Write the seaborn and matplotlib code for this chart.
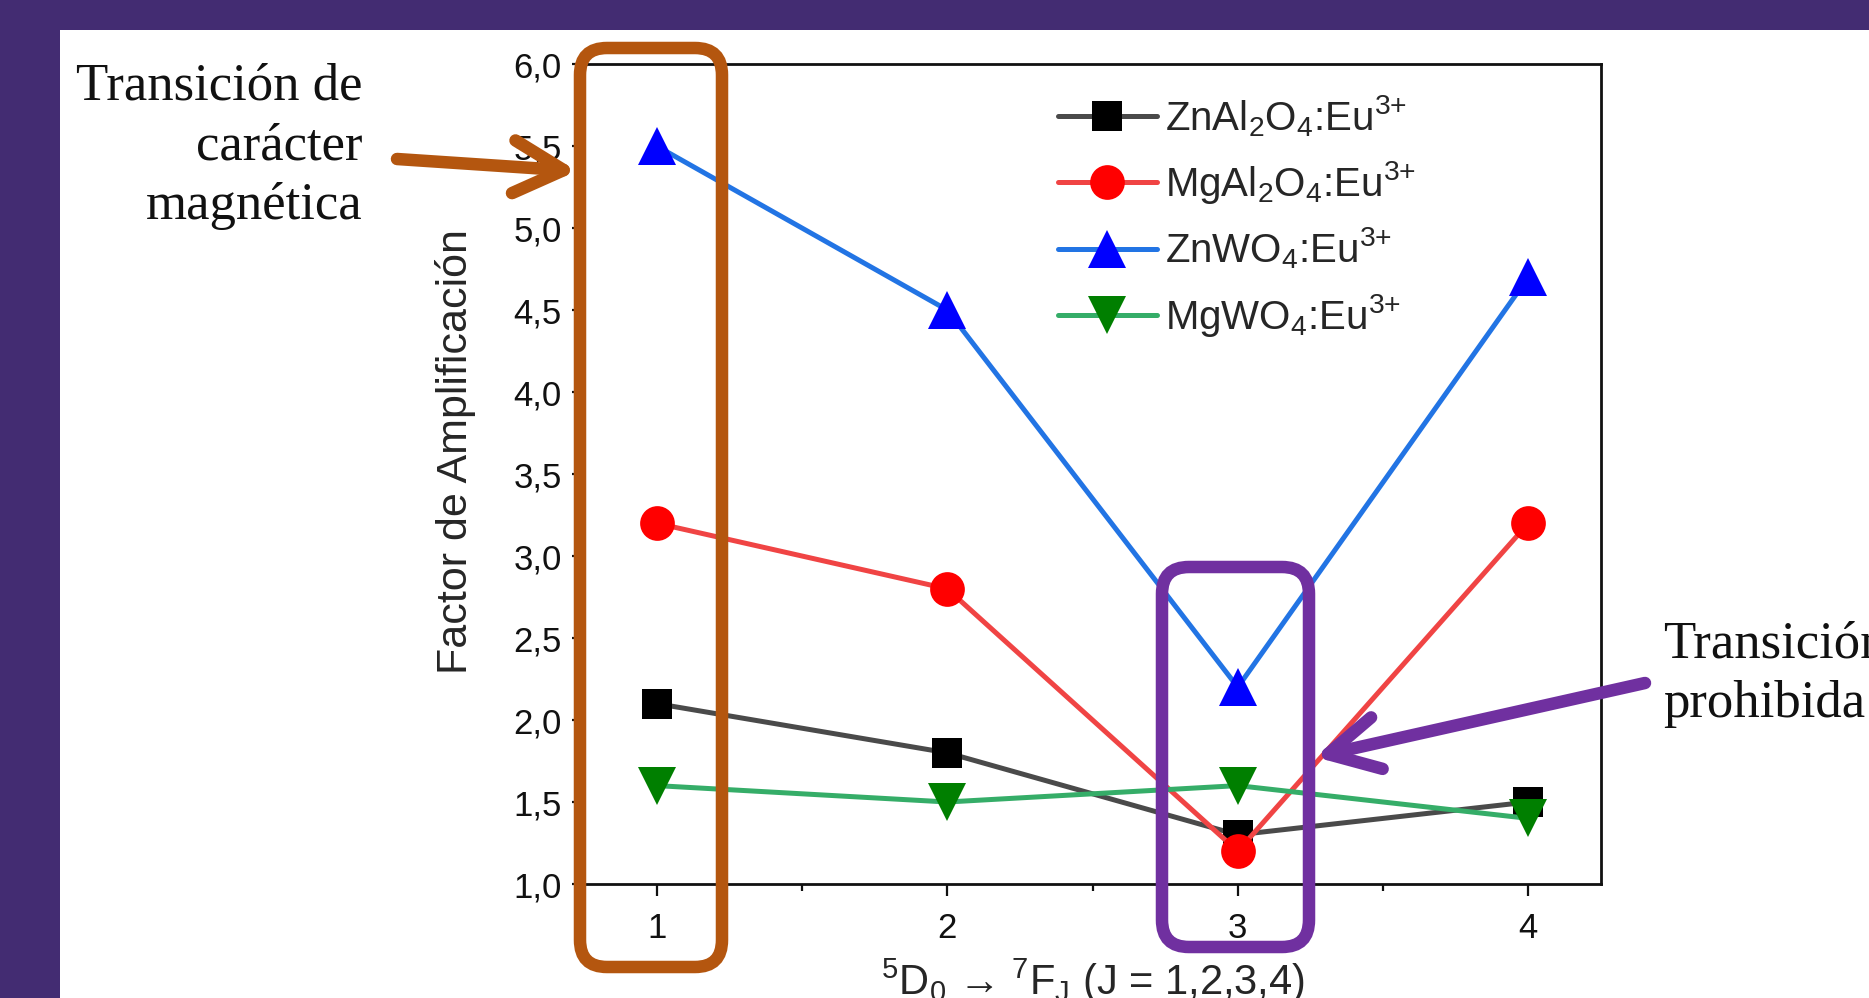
import matplotlib
matplotlib.use("Agg")
import matplotlib.pyplot as plt
import seaborn as sns
import pandas as pd
from matplotlib.patches import Rectangle, FancyBboxPatch, FancyArrowPatch
from matplotlib.ticker import FixedLocator, FuncFormatter

# ---------------- data ----------------
J = [1, 2, 3, 4]
series_names = [r"ZnAl$_2$O$_4$:Eu$^{3{+}}$", r"MgAl$_2$O$_4$:Eu$^{3{+}}$",
                r"ZnWO$_4$:Eu$^{3{+}}$", r"MgWO$_4$:Eu$^{3{+}}$"]
znal2o4 = [2.1, 1.8, 1.3, 1.5]
mgal2o4 = [3.2, 2.8, 1.2, 3.2]
znwo4 = [5.5, 4.5, 2.2, 4.7]
mgwo4 = [1.6, 1.5, 1.6, 1.4]
y_ticks = [1.0, 1.5, 2.0, 2.5, 3.0, 3.5, 4.0, 4.5, 5.0, 5.5, 6.0]

values = [znal2o4, mgal2o4, znwo4, mgwo4]
line_colors = ["#4a4a4a", "#f04444", "#2274e4", "#35ad68"]
marker_colors = ["#000000", "#ff0000", "#0000ff", "#007f00"]
markers = ["s", "o", "^", "v"]
msizes = [21, 25, 28, 28]

sns.set_style("ticks")
plt.rcParams["font.family"] = ["Liberation Sans", "DejaVu Sans"]
plt.rcParams["mathtext.default"] = "regular"

W, H = 1869, 998
fig = plt.figure(figsize=(W / 100, H / 100), dpi=100)
fig.patch.set_facecolor("#432c72")
fig.add_artist(Rectangle((60 / W, 0), 1, 1 - 30 / H, transform=fig.transFigure,
                         facecolor="white", edgecolor="none", zorder=-10))

ax = fig.add_axes([584 / W, 1 - 884 / H, (1601 - 584) / W, (884 - 64) / H])
ax.set_facecolor("white")

for name, vals, lc, mc, mk, ms in zip(series_names, values, line_colors,
                                      marker_colors, markers, msizes):
    df = pd.DataFrame({"J": J, "F": vals})
    sns.lineplot(data=df, x="J", y="F", ax=ax, color=lc, lw=3.6, marker=mk,
                 markersize=ms, markerfacecolor=mc, markeredgecolor=mc,
                 markeredgewidth=0, label=name, legend=False)

ax.set_xlim(0.75, 4.25)
ax.set_ylim(1.0, 6.0)
ax.xaxis.set_major_locator(FixedLocator(J))
ax.xaxis.set_minor_locator(FixedLocator([1.5, 2.5, 3.5]))
ax.yaxis.set_major_locator(FixedLocator(y_ticks))
ax.yaxis.set_major_formatter(FuncFormatter(lambda v, p: f"{v:.1f}".replace(".", ",")))

for s in ax.spines.values():
    s.set_linewidth(2.0)
    s.set_color("#111111")
ax.tick_params(axis="x", which="major", length=8.5, width=1.6, pad=12, labelsize=25,
               direction="out", colors="#111111")
ax.tick_params(axis="x", which="minor", length=5, width=1.6, direction="out", colors="#111111")
ax.tick_params(axis="y", which="major", length=9, width=1.6, pad=7, labelsize=25,
               direction="out", colors="#111111")

ax.set_xlabel(r"$^5$D$_0$ → $^7$F$_{J}$ (J = 1,2,3,4)", fontsize=30, labelpad=8)
ax.set_ylabel("Factor de Amplificación", fontsize=31)
ax.yaxis.set_label_coords(-0.106, 0.527)

leg = ax.legend(loc="upper left", bbox_to_anchor=(1058 / W, 1 - 93 / H),
                bbox_transform=fig.transFigure, frameon=False, fontsize=29,
                handlelength=2.45, handletextpad=0.2, labelspacing=0.5,
                borderpad=0, borderaxespad=0, numpoints=1)

# ---------------- annotations (figure pixel layout) ----------------
inch = fig.dpi_scale_trans
def px(x, y):
    return (x / 100, (H - y) / 100)

orange = "#b4560f"
purple = "#7030a0"

x0, y0 = px(580, 967)
fig.add_artist(FancyBboxPatch((x0, y0), 142 / 100, (967 - 48) / 100,
                              boxstyle="round,pad=0,rounding_size=0.27",
                              transform=inch, facecolor="none", edgecolor=orange,
                              linewidth=9, zorder=20))
x0, y0 = px(1162, 947)
fig.add_artist(FancyBboxPatch((x0, y0), 147 / 100, (947 - 567) / 100,
                              boxstyle="round,pad=0,rounding_size=0.27",
                              transform=inch, facecolor="none", edgecolor=purple,
                              linewidth=9, zorder=20))

fig.add_artist(FancyArrowPatch(px(397, 159), px(577, 171), transform=inch,
                               arrowstyle="->,head_length=36,head_width=19",
                               mutation_scale=1, color=orange, linewidth=9,
                               capstyle="round", joinstyle="round",
                               shrinkA=0, shrinkB=0, zorder=21))
fig.add_artist(FancyArrowPatch(px(1645, 683), px(1315, 757), transform=inch,
                               arrowstyle="->,head_length=36,head_width=19",
                               mutation_scale=1, color=purple, linewidth=9,
                               capstyle="round", joinstyle="round",
                               shrinkA=0, shrinkB=0, zorder=21))

fig.text(362 / W, 1 - 62 / H, "Transición de\ncarácter\nmagnética", ha="right", va="top",
         family="Liberation Serif", fontsize=38, linespacing=1.33, color="#111111")
fig.text(1663 / W, 1 - 620 / H, "Transición\nprohibida", ha="left", va="top",
         family="Liberation Serif", fontsize=38, linespacing=1.33, color="#111111")

fig.savefig("out.png", dpi=100, facecolor=fig.get_facecolor())
